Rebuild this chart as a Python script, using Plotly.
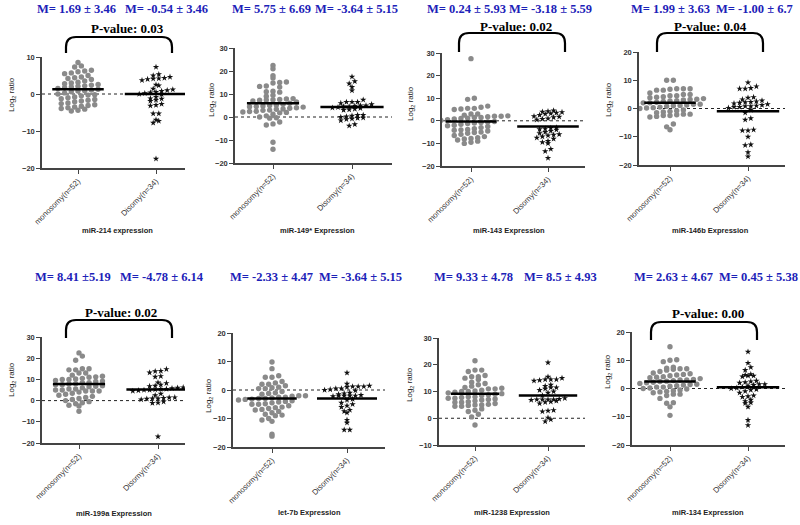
import plotly.graph_objects as go

# ---------------- data ----------------
titles = ["miR-214 expression", "miR-149* Expression", "miR-143 Expression", "miR-146b Expression",
          "miR-199a Expression", "let-7b Expression", "miR-1238 Expression", "miR-134 Expression"]
categories = ["monosomy(n=52)", "Disomy(n=34)"]

mono_214 = [8.5, 7.6, 7.3, 6.4, 6.2, 6.0, 5.7, 5.5, 5.0, 4.6, 4.4, 4.2, 3.9, 3.5, 3.2, 3.0, 2.8, 2.6, 2.4, 2.2,
            2.1, 1.9, 1.7, 1.5, 1.3, 1.1, 0.9, 0.8, 0.6, 0.3, 0.0, -0.2, -0.3, -0.5, -0.8, -1.0, -1.3, -1.5, -1.7,
            -1.9, -2.1, -2.4, -2.6, -2.9, -3.1, -3.3, -3.5, -3.7, -3.9, -4.1, -4.4, -4.6]
dis_214 = [7.3, 5.3, 5.0, 4.6, 4.3, 4.2, 4.1, 4.0, 3.7, 2.5, 2.3, 1.4, 1.2, 1.0, 0.8, 0.5, 0.4, 0.2, 0.0, -0.1,
           -0.8, -1.2, -1.3, -1.6, -1.9, -2.7, -3.0, -3.2, -5.3, -5.3, -7.0, -7.3, -7.8, -17.5]

mono_149 = [22.4, 21.0, 18.0, 17.0, 15.2, 15.0, 14.8, 13.5, 13.3, 13.0, 11.2, 11.0, 10.8, 9.5, 9.0, 8.0, 7.8, 7.6,
            7.5, 7.4, 7.3, 7.0, 6.5, 6.0, 5.5, 5.2, 5.0, 4.8, 4.6, 4.5, 4.3, 4.0, 3.8, 3.5, 3.4, 3.0, 2.9, 2.5,
            2.4, 2.2, 2.0, 1.8, 1.2, 0.5, 0.0, -0.3, -0.5, -2.2, -3.0, -3.5, -11.0, -14.0]
dis_149 = [17.5, 15.5, 14.5, 13.0, 11.5, 7.5, 6.5, 6.5, 6.5, 6.0, 5.5, 5.0, 5.0, 4.8, 4.5, 4.5, 4.2, 4.0, 3.8, 3.5,
           3.2, 3.0, 0.8, 0.8, 0.5, 0.2, 0.0, -0.3, -0.5, -0.8, -1.0, -1.5, -3.2, -3.8]

mono_143 = [27.5, 10.0, 9.5, 6.5, 6.0, 5.5, 5.5, 5.2, 5.0, 3.0, 3.0, 2.5, 2.2, 2.0, 2.0, 1.8, 1.5, 1.5, 1.2, 1.0,
            0.8, 0.5, 0.2, 0.0, -0.3, -0.5, -0.8, -1.0, -1.2, -1.5, -2.0, -2.2, -2.5, -3.0, -3.5, -3.8, -4.0, -4.2,
            -4.5, -5.0, -5.2, -5.5, -6.0, -6.5, -7.0, -7.5, -7.8, -8.0, -8.5, -9.0, -9.5, -10.0]
dis_143 = [4.5, 4.2, 4.0, 3.8, 3.5, 3.2, 3.0, 2.5, 2.0, 1.8, 1.5, 1.0, 0.8, 0.5, -3.0, -3.2, -3.5, -3.8, -4.0, -4.5,
           -5.0, -5.5, -6.0, -6.2, -6.5, -7.0, -7.5, -8.0, -9.0, -9.5, -10.0, -12.5, -13.5, -16.5]

mono_146b = [10.0, 10.0, 7.0, 7.0, 7.0, 6.8, 6.5, 6.5, 5.5, 5.0, 5.0, 4.5, 4.5, 4.2, 4.0, 3.8, 3.5, 3.3, 3.2, 3.0,
             2.8, 2.7, 2.5, 2.2, 2.0, 2.0, 1.8, 1.5, 1.5, 1.2, 1.1, 1.0, 0.8, 0.5, 0.3, 0.2, 0.0, -0.5, -0.8, -1.0,
             -1.2, -1.5, -2.0, -2.0, -2.2, -2.5, -2.5, -2.8, -3.0, -5.5, -6.5, -7.5]
dis_146b = [9.2, 7.8, 7.2, 7.0, 7.0, 4.0, 3.8, 3.2, 2.8, 2.5, 2.3, 2.2, 2.0, 1.8, 1.5, 1.2, 1.0, 0.8, 0.8, 0.5,
            0.5, 0.2, -0.5, -1.5, -3.5, -4.0, -7.5, -7.8, -7.8, -10.0, -12.8, -13.0, -15.5, -17.0]

mono_199a = [22.5, 21.0, 19.0, 15.0, 15.0, 14.5, 14.5, 13.0, 13.0, 12.0, 11.5, 11.2, 11.0, 10.5, 10.2, 10.0, 10.0,
             9.5, 9.2, 9.0, 8.5, 8.5, 8.0, 7.8, 7.5, 7.5, 7.0, 6.8, 6.5, 6.0, 5.5, 5.5, 5.0, 5.0, 4.5, 4.5, 4.5,
             4.0, 3.5, 3.0, 2.5, 2.0, 1.5, 1.0, 0.5, 0.0, -0.5, -1.0, -1.5, -2.2, -2.5, -5.0]
dis_199a = [14.8, 14.0, 13.8, 13.2, 11.5, 11.2, 8.5, 8.2, 7.5, 7.0, 6.8, 6.2, 6.0, 5.8, 5.5, 5.5, 5.2, 5.0, 5.0, 4.8,
            4.5, 3.2, 2.5, 1.5, 1.4, 1.2, 1.0, 1.0, 0.8, 0.5, -0.5, -1.0, -1.2, -17.0]

mono_let7b = [9.8, 7.5, 5.0, 4.5, 4.5, 3.0, 2.5, 2.0, 2.0, 1.5, 1.0, 0.8, 0.5, 0.5, -0.5, -1.0, -1.2, -1.5, -2.0,
              -2.0, -2.2, -2.5, -2.5, -2.8, -3.0, -3.0, -3.2, -3.3, -3.5, -3.8, -4.0, -4.2, -4.5, -4.8, -5.0, -5.0,
              -5.5, -6.0, -6.2, -6.5, -6.8, -7.0, -7.5, -8.0, -8.5, -8.8, -9.0, -10.0, -10.5, -11.0, -15.5, -16.2]
dis_let7b = [6.0, 2.2, 1.5, 1.2, 1.2, 1.2, 1.0, 0.5, 0.5, 0.2, 0.0, -0.2, -1.0, -1.2, -1.5, -1.8, -2.0, -2.0, -2.0,
             -2.0, -2.2, -3.2, -3.5, -4.5, -5.0, -5.5, -6.0, -7.0, -7.5, -8.0, -10.5, -11.5, -14.0, -14.0]

mono_1238 = [21.5, 18.0, 18.0, 17.5, 16.0, 15.5, 15.5, 15.0, 14.5, 13.5, 13.0, 12.5, 12.0, 11.5, 11.2, 11.0, 11.0,
             10.5, 10.2, 10.0, 10.0, 9.7, 9.5, 9.2, 9.0, 8.8, 8.5, 8.0, 8.0, 7.8, 7.5, 7.5, 7.2, 7.0, 6.8, 6.5, 6.2,
             6.0, 6.0, 5.5, 5.2, 5.0, 5.0, 4.8, 4.5, 4.5, 3.5, 3.0, 2.5, 1.5, 0.5, -2.5]
dis_1238 = [20.8, 15.5, 15.0, 14.5, 14.5, 14.5, 14.2, 14.0, 12.5, 12.0, 11.5, 11.5, 11.0, 10.5, 10.0, 9.5, 8.5, 7.5,
            7.2, 7.0, 7.0, 7.0, 7.0, 6.8, 6.5, 6.2, 6.0, 5.5, 3.0, 2.8, 2.5, 0.2, -0.5, -1.2]

mono_134 = [14.8, 10.2, 10.0, 9.5, 7.5, 7.2, 7.0, 7.0, 6.8, 6.5, 6.0, 5.5, 5.2, 5.0, 4.8, 4.5, 4.2, 4.0, 3.8, 3.5,
            3.2, 3.0, 3.0, 2.8, 2.6, 2.5, 2.2, 2.0, 1.8, 1.5, 1.4, 1.2, 1.0, 0.8, 0.5, 0.5, 0.2, 0.0, -0.2, -0.5,
            -0.8, -1.0, -1.2, -1.5, -2.0, -2.0, -2.5, -3.5, -5.0, -5.2, -6.5, -9.5]
dis_134 = [13.0, 9.0, 7.5, 6.5, 5.0, 4.8, 4.5, 4.5, 4.2, 2.7, 2.5, 2.2, 2.0, 1.5, 1.5, 1.2, 1.0, 0.5, 0.2, 0.0,
           -0.3, -0.5, -1.0, -1.5, -2.5, -2.8, -3.0, -4.0, -4.5, -5.0, -5.2, -6.5, -11.2, -13.0]

mono_sets = [mono_214, mono_149, mono_143, mono_146b, mono_199a, mono_let7b, mono_1238, mono_134]
dis_sets = [dis_214, dis_149, dis_143, dis_146b, dis_199a, dis_let7b, dis_1238, dis_134]

# horizontal summary line drawn in each group
mono_line = [1.3, 6.0, -0.3, 2.0, 7.8, -3.0, 9.2, 2.5]
dis_line = [0.0, 4.3, -2.5, -1.0, 5.2, -3.0, 8.5, 0.4]

m_mono = ["M= 1.69 ± 3.46", "M= 5.75 ± 6.69", "M= 0.24 ± 5.93", "M= 1.99 ± 3.63",
          "M= 8.41 ±5.19", "M= -2.33 ± 4.47", "M= 9.33 ± 4.78", "M= 2.63 ± 4.67"]
m_dis = ["M= -0.54 ± 3.46", "M= -3.64 ± 5.15", "M= -3.18 ± 5.59", "M= -1.00 ± 6.7",
         "M= -4.78 ± 6.14", "M= -3.64 ± 5.15", "M= 8.5 ± 4.93", "M= 0.45 ± 5.38"]
p_values = ["0.03", None, "0.02", "0.04", "0.02", None, None, "0.00"]
y_ranges = [(-20, 10), (-20, 30), (-20, 30), (-20, 20), (-20, 30), (-20, 20), (-10, 30), (-20, 20)]

# ---------------- layout geometry (pixels) ----------------
W, H = 800, 525
# x0(axis), x1(end), tick mono, tick disomy, y top, y bottom
geom = [(42, 185, 78, 156, 57, 168), (235, 392, 273, 352, 48, 163),
        (442, 585, 471, 548, 53, 166), (639, 785, 670, 748, 52, 165),
        (42, 185, 79, 158, 337, 443), (233, 385, 272, 347, 333, 447),
        (439, 585, 475, 548, 338, 445), (632, 785, 670, 748, 332, 445)]
m_pos = [(76, 166, 8.5), (271, 356, 8.5), (466, 550, 8.5), (670, 754, 8.5),
         (73, 162, 277), (271, 360, 277), (473, 560, 277), (673, 758, 277)]
p_pos = {0: (127, 29, 66, 172, 37, 53), 2: (516, 26, 459, 565, 33, 52), 3: (710, 26, 657, 763, 33, 52),
         4: (121, 312, 66, 172, 320, 338), 7: (708, 313, 651, 757, 322, 340)}
xt_pos = [(117, 230), (317, 230), (509, 230), (710, 230), (114, 513), (309, 512), (512, 512), (708, 512)]
yt_pos = [(12, 95), (212, 100), (411, 104), (609, 100), (12, 380), (209, 396), (410, 384), (608, 372)]

BLUE = "#1c22b8"


def px(x):
    return x / W


def py(y):
    return 1 - y / H


def rows_swarm(vals, ppy, ppx, row_h, spacing):
    """Column-scatter layout: points sharing a pixel row are spread evenly side by side."""
    bins = {}
    for i, v in enumerate(vals):
        b = int((v * ppy) // row_h)
        bins.setdefault(b, []).append(i)
    xs = [0.0] * len(vals)
    for b, idx in bins.items():
        idx = sorted(idx, key=lambda i: vals[i])
        n = len(idx)
        for j, i in enumerate(idx):
            xs[i] = (j - (n - 1) / 2.0) * spacing / ppx
    return xs


fig = go.Figure()
layout = dict(width=W, height=H, margin=dict(l=0, r=0, t=0, b=0, autoexpand=False), showlegend=False,
              paper_bgcolor="white", plot_bgcolor="white", annotations=[], shapes=[])
axis_font = dict(family="Liberation Sans, Arial", size=7.5, color="#333", weight="bold")

for i in range(8):
    x0, x1, t0, t1, yt, yb = geom[i]
    ymin, ymax = y_ranges[i]
    ux = 1.0 / (t1 - t0)
    xr = [-(t0 - x0) * ux, 1 + (x1 - t1) * ux]
    ppy = (yb - yt) / (ymax - ymin)
    ppx = t1 - t0
    sfx = "" if i == 0 else str(i + 1)
    xa, ya = "x" + sfx, "y" + sfx

    mx = rows_swarm(mono_sets[i], ppy, ppx, 5.0, 6.7)
    dx = rows_swarm(dis_sets[i], ppy, ppx, 4.5, 5.6)

    fig.add_trace(go.Scatter(x=[xr[0], xr[1]], y=[0, 0], mode="lines", xaxis=xa, yaxis=ya,
                             line=dict(color="#222", width=1, dash="dot"), hoverinfo="skip"))
    fig.add_trace(go.Scatter(x=mx, y=mono_sets[i], mode="markers", xaxis=xa, yaxis=ya,
                             marker=dict(symbol="circle", size=5.4, color="#8a8a8a")))
    fig.add_trace(go.Scatter(x=[1 + v for v in dx], y=dis_sets[i], mode="markers", xaxis=xa, yaxis=ya,
                             marker=dict(symbol="star", size=4.8, color="#111")))
    fig.add_trace(go.Scatter(x=[-0.33, 0.33], y=[mono_line[i]] * 2, mode="lines", xaxis=xa, yaxis=ya,
                             line=dict(color="black", width=2.5)))
    fig.add_trace(go.Scatter(x=[1 - 0.4, 1 + 0.4], y=[dis_line[i]] * 2, mode="lines", xaxis=xa, yaxis=ya,
                             line=dict(color="black", width=2.5)))

    layout["xaxis" + sfx] = dict(domain=[px(x0), px(x1)], range=xr, anchor=ya, showline=True, automargin=False,
                                 linecolor="#444", linewidth=1.5, ticks="outside", ticklen=4, tickwidth=1.2,
                                 tickcolor="#444", tickvals=[0, 1], ticktext=categories, tickangle=-45,
                                 tickfont=dict(family="Liberation Sans, Arial", size=7.8, color="#333"),
                                 showgrid=False, zeroline=False)
    layout["yaxis" + sfx] = dict(domain=[py(yb), py(yt)], range=[ymin, ymax], anchor=xa, showline=True,
                                 automargin=False,
                                 linecolor="#444", linewidth=1.5, ticks="outside", ticklen=4, tickwidth=1.2,
                                 tickcolor="#444", tickvals=list(range(ymin, ymax + 1, 10)),
                                 tickfont=axis_font, showgrid=False, zeroline=False)

    # mean labels
    for txt, cx in ((m_mono[i], m_pos[i][0]), (m_dis[i], m_pos[i][1])):
        layout["annotations"].append(dict(text=txt, x=px(cx), y=py(m_pos[i][2]), xref="paper", yref="paper",
                                          showarrow=False, xanchor="center", yanchor="middle",
                                          font=dict(family="Liberation Serif, Times New Roman", size=12.5,
                                                    color=BLUE, weight="bold")))
    # x title
    layout["annotations"].append(dict(text=titles[i], x=px(xt_pos[i][0]), y=py(xt_pos[i][1]), xref="paper",
                                      yref="paper", showarrow=False, xanchor="center", yanchor="middle",
                                      font=dict(family="Liberation Sans, Arial", size=7.5, color="#222",
                                                weight="bold")))
    # y title
    layout["annotations"].append(dict(text="Log<sub>2</sub> ratio", x=px(yt_pos[i][0]), y=py(yt_pos[i][1]),
                                      xref="paper", yref="paper", showarrow=False, textangle=-90,
                                      xanchor="center", yanchor="middle",
                                      font=dict(family="Liberation Sans, Arial", size=8, color="#222")))
    # p-value bracket
    if p_values[i] is not None:
        tx, ty, bx0, bx1, btop, bbot = p_pos[i]
        layout["annotations"].append(dict(text="P-value: " + p_values[i], x=px(tx), y=py(ty), xref="paper",
                                          yref="paper", showarrow=False, xanchor="center", yanchor="middle",
                                          font=dict(family="Liberation Serif, Times New Roman", size=13,
                                                    color="black", weight="bold")))
        r = 10
        path = (f"M {px(bx0)},{py(bbot)} L {px(bx0)},{py(btop + r)} "
                f"Q {px(bx0)},{py(btop)} {px(bx0 + r)},{py(btop)} L {px(bx1 - r)},{py(btop)} "
                f"Q {px(bx1)},{py(btop)} {px(bx1)},{py(btop + r)} L {px(bx1)},{py(bbot)}")
        layout["shapes"].append(dict(type="path", path=path, xref="paper", yref="paper",
                                     line=dict(color="black", width=2.2)))

fig.update_layout(**layout)
# remove the browser's default 8px page margin so the figure sits at the window origin
fig.write_html("out.html", config={"displayModeBar": False},
               post_script="document.body.style.margin='0px';document.body.style.overflow='hidden';")
